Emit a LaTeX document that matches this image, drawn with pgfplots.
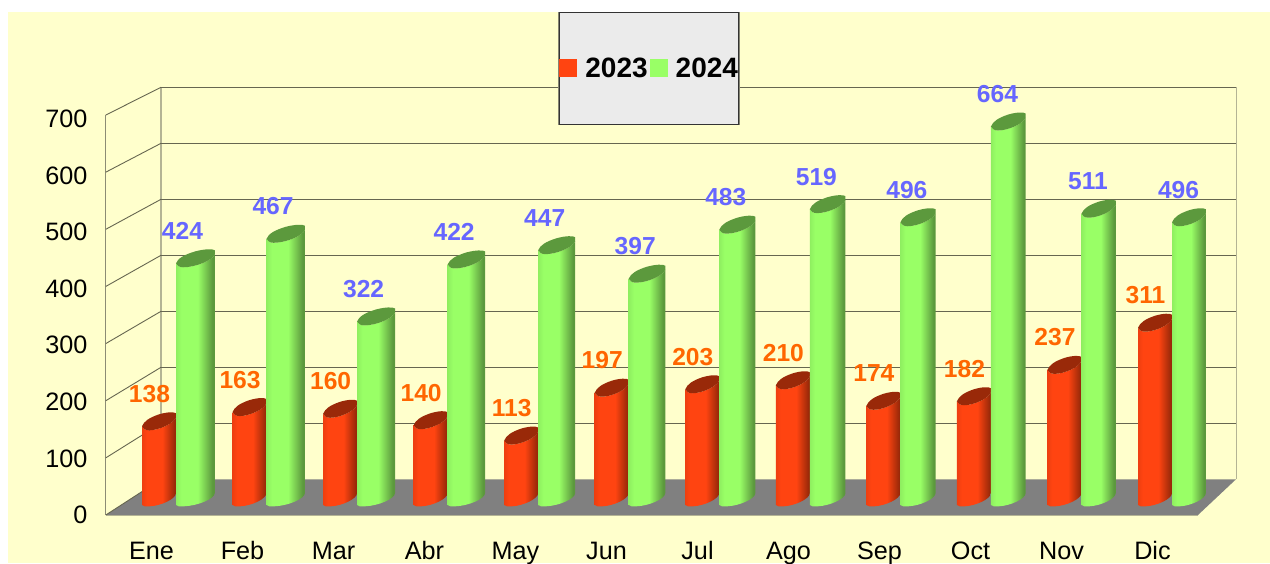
\documentclass[border=0pt]{standalone}
\usepackage{pgfplots}
\pgfplotsset{compat=1.18}
\usepackage{fontspec}
\setmainfont{Liberation Sans}
\definecolor{bgy}{HTML}{FFFFCC}
\definecolor{gridc}{HTML}{666650}
\definecolor{wallc}{HTML}{B4B494}
\definecolor{frontc}{HTML}{8C8C74}
\definecolor{floorc}{HTML}{808080}
\definecolor{redA}{HTML}{EE3F10}
\definecolor{redB}{HTML}{FF4411}
\definecolor{redC}{HTML}{992909}
\definecolor{redT}{HTML}{992909}
\definecolor{grnA}{HTML}{8FEF60}
\definecolor{grnB}{HTML}{99FF66}
\definecolor{grnC}{HTML}{5C993D}
\definecolor{grnT}{HTML}{5C993D}
\definecolor{lblO}{HTML}{FF6600}
\definecolor{lblB}{HTML}{6666FF}
\pgfdeclarehorizontalshading{cylred}{100bp}{color(0bp)=(redA); color(25bp)=(redA); color(32bp)=(redB); color(55bp)=(redB); color(73bp)=(redC); color(100bp)=(redC)}
\pgfdeclarehorizontalshading{cylgrn}{100bp}{color(0bp)=(grnA); color(25bp)=(grnA); color(32bp)=(grnB); color(53bp)=(grnB); color(72bp)=(grnC); color(100bp)=(grnC)}
% one cylinder, drawn at the data point (its upper left corner)
\newcommand\cyl[3]{%
  \pgfmathsetmacro\hh{\vv*0.57}%
  \pgfmathsetmacro\ww{#3}%
  \pgfmathsetmacro\hA{-\hh}%
  \pgfmathsetmacro\hB{-\hh-1.6}%
  \pgfmathsetmacro\hC{-\hh-1.3}%
  \pgfmathsetmacro\hD{-\hh-0.8}%
  \pgfmathsetmacro\hE{-\hh+6}%
  \pgfmathsetmacro\hF{-\hh+12}%
  \pgfmathsetmacro\wA{\ww-2}%
  \pgfmathsetmacro\wB{\ww*0.55}%
  \pgfmathsetmacro\wC{\ww*0.5}%
  \pgfmathsetmacro\wD{\ww*0.2}%
  \pgfmathsetmacro\wE{\ww*0.75}%
  \scope
  \path[shading=#1] (0pt,0pt) -- (0pt,\hA pt)
     .. controls (1pt,\hB pt) and (4pt,\hB pt) .. (8pt,\hC pt)
     .. controls (\wB pt,\hD pt) and (\ww pt,\hE pt) .. (\ww pt,\hF pt)
     -- (\ww pt,9pt) .. controls (\wA pt,3pt) and (\wC pt,-4pt) .. (7pt,-4pt)
     .. controls (3pt,-4pt) and (1pt,-2pt) .. (0pt,0pt) -- cycle;
  \fill[#2] (0pt,0pt) .. controls (1pt,-2pt) and (3pt,-4pt) .. (7pt,-4pt)
     .. controls (\wC pt,-4pt) and (\wA pt,3pt) .. (\ww pt,9pt)
     -- (\ww pt,13pt) .. controls (\wA pt,14.5pt) and (\wE pt,14.5pt) .. (\wC pt,12pt)
     .. controls (\wD pt,8.5pt) and (2pt,5pt) .. (0pt,0pt) -- cycle;
}
\pgfplotstableread{
x    v
0    138
1    163
2    160
3    140
4    113
5    197
6    203
7    210
8    174
9    182
10   237
11   311
}\ttwentythree
\pgfplotstableread{
x       v
0.3755  424
1.3755  467
2.3755  322
3.3755  422
4.3755  447
5.3755  397
6.3755  483
7.3755  519
8.3755  496
9.3755  664
10.3755 511
11.3755 496
}\ttwentyfour
\begin{document}
\begin{tikzpicture}
\useasboundingbox (0pt,0pt) rectangle (1270pt,563pt);
\begin{scope}[x=1pt,y=-1pt,shift={(0pt,563pt)}]
  \fill[bgy] (8,12) rectangle (1270,563);
  % floor
  \fill[floorc] (106,515) -- (161,479.3) -- (1236,479.3) -- (1198,515) -- cycle;
  \draw[wallc,line width=1pt] (106,515.3) -- (1198,515.3);
  % walls
  \draw[wallc,line width=1.6pt] (161,87.3) -- (161,479.3);
  \draw[wallc,line width=1.6pt] (1236.5,87.3) -- (1236.5,479.3);
  \draw[frontc,line width=0.8pt] (105.8,115) -- (105.8,515);
  \foreach \k in {0,...,7} {
    \pgfmathsetmacro\fy{515-57.14*\k}
    \pgfmathsetmacro\by{479.3-56*\k}
    \draw[gridc,line width=0.9pt] (105.8,\fy) -- (161,\by);
    \ifnum\k>0 \draw[gridc,line width=1pt] (161,\by) -- (1236,\by); \fi
  }
  % shadow of the legend box
  \fill[gridc!80!white] (558,12) rectangle (740.4,124.6);
\end{scope}
% axis with the tick labels
\begin{axis}[
  at={(106pt,48pt)}, anchor=south west,
  scale only axis, width=1092pt, height=396.2pt,
  xmin=-0.5, xmax=11.5, ymin=0, ymax=700,
  xtick={0,1,2,3,4,5,6,7,8,9,10,11},
  xticklabels={Ene,Feb,Mar,Abr,May,Jun,Jul,Ago,Sep,Oct,Nov,Dic},
  ytick={0,100,200,300,400,500,600,700},
  axis line style={draw=none},
  tick style={draw=none},
  /pgf/number format/assume math mode=true,
  tick label style={font=\fontsize{25.2}{26}\selectfont, text=black},
  yticklabel style={anchor=east, xshift=-15pt},
  xticklabel style={anchor=base, yshift=-44pt},
  ]
\end{axis}
% axis with the cylinders
\begin{axis}[
  at={(100pt,18pt)}, anchor=south west,
  scale only axis, width=1100pt, height=490pt,
  xmin=-0.46383, xmax=11.6842, ymin=-70.175, ymax=789.47,
  hide axis, clip=false,
  legend columns=2,
  legend cell align=left,
  legend style={at={(0.4173,1.0878)}, anchor=north west,
    draw=black!80, line width=0.8pt, fill=black!8,
    inner xsep=0pt, inner ysep=44pt,
    font=\fontsize{28}{30}\selectfont\bfseries,
    nodes={inner xsep=0pt, inner ysep=2pt, text depth=0pt},
    /tikz/every even column/.append style={column sep=2pt}},
  /pgf/number format/assume math mode=true,
  ]
\addplot+[only marks, scatter, mark=*, mark size=0pt, draw=none, fill=none,
  mark options={draw=none,fill=none},
  visualization depends on={rawy \as \vv},
  visualization depends on={rawx \as \xv},
  scatter/@pre marker code/.code={\cyl{cylred}{redT}{34}},
  scatter/@post marker code/.code={\endscope},
  legend image code/.code={\fill[redB] (0pt,-9pt) rectangle (18pt,9pt); \path (26pt,0pt);},
  ] table[x=x,y=v] {\ttwentythree};
\addlegendentry{2023}
\addplot+[only marks, scatter, mark=*, mark size=0pt, draw=none, fill=none,
  mark options={draw=none,fill=none},
  visualization depends on={rawy \as \vv},
  visualization depends on={rawx \as \xv},
  scatter/@pre marker code/.code={\cyl{cylgrn}{grnT}{39-0.4545*\xv}},
  scatter/@post marker code/.code={\endscope},
  legend image code/.code={\fill[grnB] (0pt,-9pt) rectangle (18pt,9pt); \path (26pt,0pt);},
  ] table[x=x,y=v] {\ttwentyfour};
\addlegendentry{2024}
% value labels
\addplot[forget plot, only marks, mark=none, draw=none,
  nodes near coords,
  every node near coord/.append style={anchor=center, xshift=7.5pt, yshift=32.5pt,
     font=\fontsize{24.6}{24}\selectfont\bfseries, text=lblO},
  ] table[x=x,y=v] {\ttwentythree};
\addplot[forget plot, only marks, mark=none, draw=none,
  nodes near coords,
  every node near coord/.append style={anchor=center, xshift=6.5pt, yshift=32.5pt,
     font=\fontsize{24.6}{24}\selectfont\bfseries, text=lblB},
  ] table[x=x,y=v] {\ttwentyfour};
\end{axis}
\end{tikzpicture}
\end{document}
